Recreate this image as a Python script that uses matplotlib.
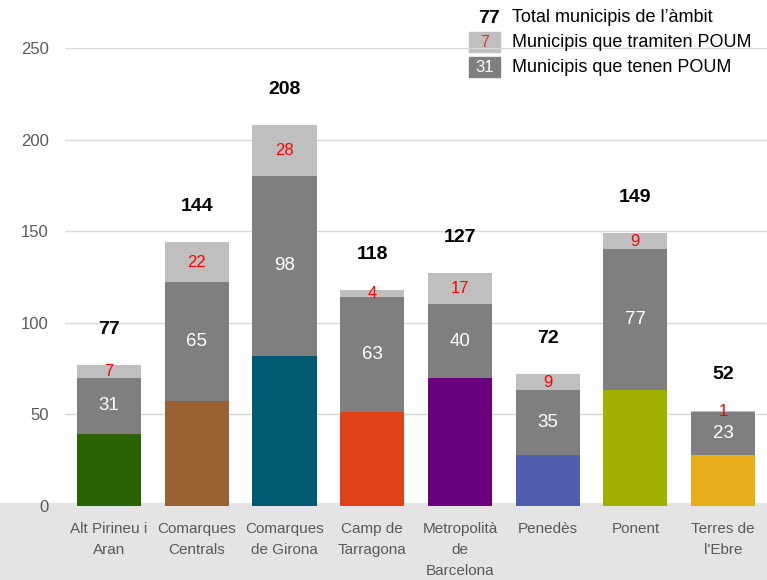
import matplotlib.pyplot as plt
from matplotlib.patches import Rectangle

plt.rcParams['font.family'] = ['Liberation Sans', 'DejaVu Sans']

categories = ["Alt Pirineu i\nAran", "Comarques\nCentrals", "Comarques\nde Girona",
              "Camp de\nTarragona", "Metropolità\nde\nBarcelona", "Penedès",
              "Ponent", "Terres de\nl'Ebre"]
totals = [77, 144, 208, 118, 127, 72, 149, 52]
tenen = [31, 65, 98, 63, 40, 35, 77, 23]
tramiten = [7, 22, 28, 4, 17, 9, 9, 1]
base_colors = ["#2a6201", "#9a6233", "#005a73", "#e04116", "#6b007e",
               "#4f5fad", "#a2b000", "#e8ae1a"]
yticks = [0, 50, 100, 150, 200, 250]

rest = [t - a - b for t, a, b in zip(totals, tenen, tramiten)]

fig = plt.figure(figsize=(7.67, 5.8), dpi=100)
fig.patches.append(Rectangle((0, 0), 1, 0.133, transform=fig.transFigure,
                             color="#e4e4e4", zorder=0))
ax = fig.add_axes([0.085, 0.128, 0.915, 0.789])
ax.set_zorder(2)
ax.patch.set_alpha(0)

x = range(len(categories))
w = 0.73
ax.bar(x, rest, width=w, color=base_colors, zorder=3)
ax.bar(x, tenen, width=w, bottom=rest, color="#7f7f7f", zorder=3)
bottom2 = [r + t for r, t in zip(rest, tenen)]
ax.bar(x, tramiten, width=w, bottom=bottom2, color="#bfbfbf", zorder=3)

for i in x:
    ax.text(i, rest[i] + tenen[i] / 2, str(tenen[i]), ha="center", va="center",
            color="white", fontsize=13.5, zorder=4)
    ax.text(i, bottom2[i] + tramiten[i] / 2, str(tramiten[i]), ha="center",
            va="center", color="red", fontsize=12, zorder=4)
    ax.text(i, totals[i] + 19.5, str(totals[i]), ha="center", va="center",
            color="black", fontsize=14, fontweight="bold", zorder=4,
            clip_on=False)

ax.set_xlim(-0.5, len(categories) - 0.5)
ax.set_ylim(0, 250)
ax.set_yticks(yticks)
ax.set_xticks(list(x))
ax.set_xticklabels(categories, linespacing=1.6, fontsize=11)
ax.tick_params(axis="both", length=0, colors="#595959")
ax.tick_params(axis="y", labelsize=12, pad=12)
ax.tick_params(axis="x", pad=12)
ax.grid(axis="y", color="#d9d9d9", linewidth=1, zorder=0)
for s in ax.spines.values():
    s.set_visible(False)

# legend drawn by hand
fig.text(0.637, 0.968, "77", ha="center", va="center", fontsize=14,
         fontweight="bold")
fig.patches.append(Rectangle((0.611, 0.911), 0.041, 0.033,
                             transform=fig.transFigure, color="#bfbfbf"))
fig.text(0.632, 0.926, "7", ha="center", va="center", fontsize=11.5, color="#e03030")
fig.patches.append(Rectangle((0.611, 0.867), 0.041, 0.034,
                             transform=fig.transFigure, color="#7f7f7f"))
fig.text(0.632, 0.883, "31", ha="center", va="center", fontsize=12, color="white")
legend_texts = ["Total municipis de l’àmbit", "Municipis que tramiten POUM",
                "Municipis que tenen POUM"]
for k, t in enumerate(legend_texts):
    fig.text(0.667, 0.970 - k * 0.043, t, ha="left", va="center", fontsize=13)

fig.savefig("out.png", dpi=100)
